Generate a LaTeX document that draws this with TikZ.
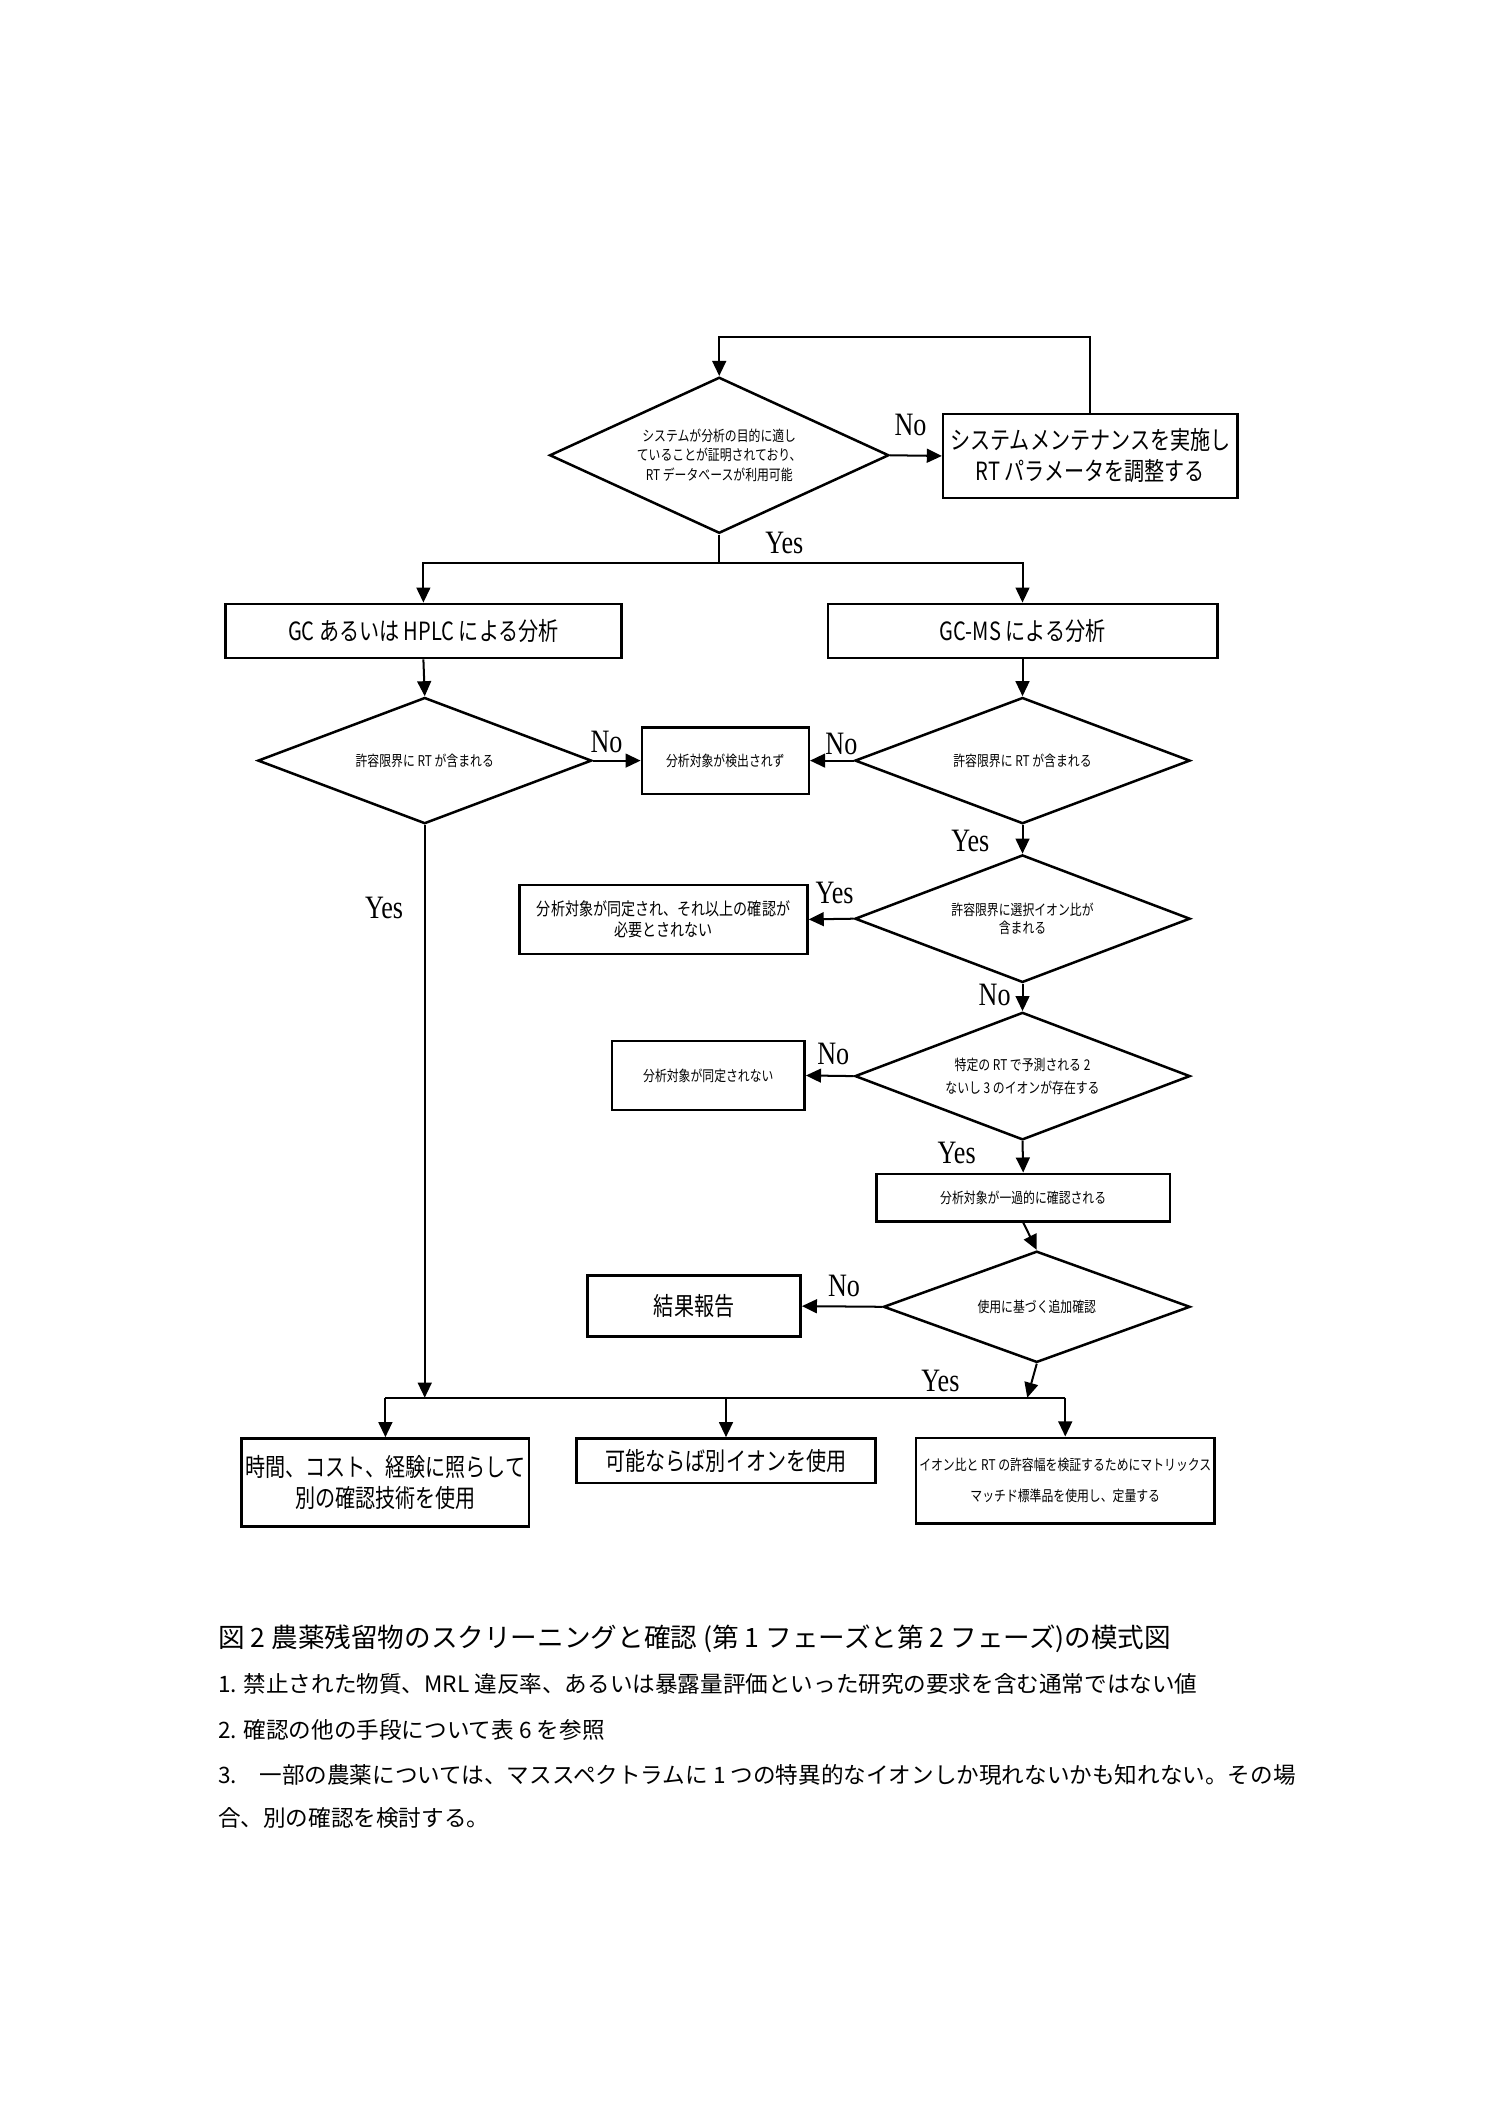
\documentclass[tikz,border=0pt]{standalone}
\usepackage{fontspec}
\setmainfont{Noto Sans CJK JP}
\newfontfamily\jpn[FakeStretch=0.8]{Noto Sans CJK JP}
\newfontfamily\yesno[FakeStretch=0.8]{Liberation Serif}
\usetikzlibrary{shapes.geometric, arrows.meta}

\tikzset{
  box/.style={draw, line width=1pt, inner sep=0pt, align=center},
  dia/.style={draw, line width=1pt, diamond, shape aspect=2.5, inner sep=0pt, align=center},
  sz/.style 2 args={minimum width=#1*0.019cm, minimum height=#2*0.019cm},
  big/.style={font=\jpn\fontsize{10}{12.4}\selectfont},
  small/.style={font=\jpn\fontsize{5.9}{#1}\selectfont},
  small/.default=7.8pt,
  lab/.style={font=\yesno\fontsize{13}{13}\selectfont, inner sep=0pt},
  arr/.style={-{Triangle[length=6pt, width=5.5pt]}},
  note/.style={anchor=west, inner sep=0pt, font=\fontsize{9}{9}\selectfont}
}

\begin{document}
\begin{tikzpicture}[x=0.019cm, y=-0.019cm, line width=0.8pt]

% 页面范围
\useasboundingbox (0,0) rectangle (1105,1563);

% 第一个判断和系统维护
\node[dia, sz={250}{115}, small] (d1) at (530,335.5)
  {システムが分析の目的に適し\\ていることが証明されており、\\RT データベースが利用可能};
\node[box, sz={217}{62}, big] (b1) at (803.5,336)
  {システムメンテナンスを実施し\\RT パラメータを調整する};

% 两种分析
\node[box, sz={292}{40}, big] (b2) at (312,465) {GC あるいは HPLC による分析};
\node[box, sz={287}{40}, big] (b3) at (753.5,465) {GC-MS による分析};

% RT 判断
\node[dia, sz={246}{93}, small] (d2) at (313,560.5) {許容限界に RT が含まれる};
\node[dia, sz={247}{93}, small] (d3) at (753.5,560.5) {許容限界に RT が含まれる};
\node[box, sz={123}{49}, small] (b4) at (534.5,560.5) {分析対象が検出されず};

% 离子比判断
\node[dia, sz={247}{94}, small=7pt] (d4) at (753.5,677)
  {許容限界に選択イオン比が\\含まれる};
\node[box, sz={212}{51}, font=\jpn\fontsize{7}{8.6}\selectfont] (b5) at (489,677.5)
  {分析対象が同定され、それ以上の確認が\\必要とされない};

% 离子存在判断
\node[dia, sz={247}{94}, small=9pt] (d5) at (753.5,793)
  {特定の RT で予測される 2\\ないし 3 のイオンが存在する};
\node[box, sz={142}{51}, small] (b6) at (522,792.5) {分析対象が同定されない};

% 暂时确认和追加确认
\node[box, sz={216}{35}, small] (b7) at (754,882.5) {分析対象が一過的に確認される};
\node[dia, sz={226}{82}, small] (d6) at (764,963) {使用に基づく追加確認};
\node[box, sz={157}{45}, big] (b8) at (511.5,962.5) {結果報告};

% 最下面三个方框
\node[box, sz={212}{65}, big] (b9) at (284,1092.5)
  {時間、コスト、経験に照らして\\別の確認技術を使用};
\node[box, sz={220}{33}, big] (b10) at (535,1076.5) {可能ならば別イオンを使用};
\node[box, sz={220}{63}, small=12.4pt] (b11) at (785,1091)
  {イオン比と RT の許容幅を検証するためにマトリックス\\マッチド標準品を使用し、定量する};

% 顶部回路
\coordinate (top) at (530,248);
\draw[arr] (b1.north) |- (top) -- (d1.north);
\draw[arr] (d1.east) -- (b1.west);
\node[lab] (no1) at (671,313) {No};

% 分叉
\coordinate (s1) at (530,415);
\draw (d1.south) -- (s1);
\draw[arr] (s1) -| (b2.north);
\draw[arr] (s1) -| (b3.north);
\node[lab] (yes1) at (578,400) {Yes};

\draw[arr] (b2.south) -- (d2.north);
\draw[arr] (b3.south) -- (d3.north);
\draw[arr] (d2.east) -- (b4.west);
\node[lab] (no2) at (447,547) {No};
\draw[arr] (d3.west) -- (b4.east);
\node[lab] (no3) at (620,548) {No};

% 右侧一列
\draw[arr] (d3.south) -- (d4.north);
\node[lab] (yes2) at (715,620) {Yes};
\draw[arr] (d4.west) -- (b5.east);
\node[lab] (yes3) at (615,658) {Yes};
\draw[arr] (d4.south) -- (d5.north);
\node[lab] (no4) at (733,733) {No};
\draw[arr] (d5.west) -- (b6.east);
\node[lab] (no5) at (614,777) {No};
\draw[arr] (d5.south) -- (b7.north);
\node[lab] (yes4) at (705,850) {Yes};
\draw[arr] (b7.south) -- (d6.north);
\draw[arr] (d6.west) -- (b8.east);
\node[lab] (no6) at (622,948) {No};

% 汇合线
\coordinate (j1) at (313,1030);
\coordinate (j2) at (757,1030);
\coordinate (jl) at (284,1030);
\coordinate (jm) at (535,1030);
\coordinate (jr) at (785,1030);
\draw[arr] (d2.south) -- (j1);
\node[lab] (yes5) at (283,669) {Yes};
\draw[arr] (d6.south) -- (j2);
\node[lab] (yes6) at (693,1018) {Yes};
\draw (jl) -- (jr);
\draw[arr] (jl) -- (b9.north);
\draw[arr] (jm) -- (b10.north);
\draw[arr] (jr) -- (b11.north);

% 图注
\node[anchor=west, inner sep=0pt, font=\fontsize{10.6}{10.6}\selectfont] (cap) at (160,1208)
  {図 2 農薬残留物のスクリーニングと確認 (第 1 フェーズと第 2 フェーズ)の模式図};
\node[note] (n1) at (160,1241)
  {1. 禁止された物質、MRL 違反率、あるいは暴露量評価といった研究の要求を含む通常ではない値};
\node[note] (n2) at (160,1275) {2. 確認の他の手段について表 6 を参照};
\node[note] (n3) at (160,1308)
  {3.　一部の農薬については、マススペクトラムに 1 つの特異的なイオンしか現れないかも知れない。その場};
\node[note] (n4) at (160,1340) {合、別の確認を検討する。};

\end{tikzpicture}
\end{document}
